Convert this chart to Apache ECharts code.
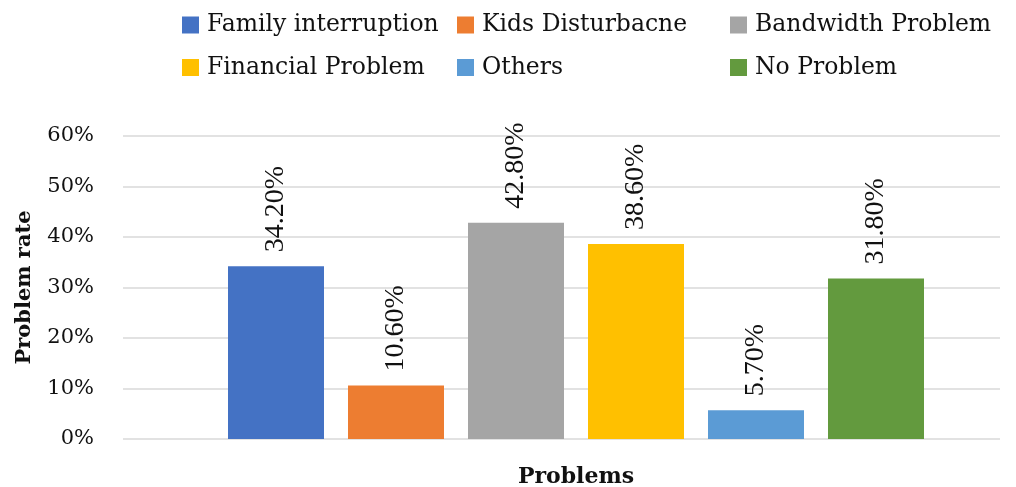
<!DOCTYPE html>
<html>
<head>
<meta charset="utf-8">
<title>Problems</title>
<script src="https://cdn.jsdelivr.net/npm/echarts@6/dist/echarts.min.js"></script>
<style>
  html, body { margin: 0; padding: 0; background: #ffffff; }
  #chart { width: 1016px; height: 487px; }
</style>
</head>
<body>
<div id="chart"></div>
<script>
// Problem names, one bar each
const problems = ['Family interruption', 'Kids Disturbacne', 'Bandwidth Problem',
                  'Financial Problem', 'Others', 'No Problem'];
// Share of respondents reporting each problem (%)
const rates = [34.2, 10.6, 42.8, 38.6, 5.7, 31.8];
const colors = ['#4472C4', '#ED7D31', '#A5A5A5', '#FFC000', '#5B9BD5', '#639A3E'];
// Y axis ticks (%)
const yMin = 0, yMax = 60, yStep = 10;
// Legend columns (two entries stacked in each)
const legendColumns = [
  ['Family interruption', 'Financial Problem'],
  ['Kids Disturbacne', 'Others'],
  ['Bandwidth Problem', 'No Problem']
];
const legendLefts = [182, 457, 730];

const axisFont = 'DejaVu Serif';
const labelFont = 'Liberation Serif';

const chart = echarts.init(document.getElementById('chart'), null, { renderer: 'canvas' });

const series = problems.map((name, i) => ({
  name: name,
  type: 'bar',
  xAxisIndex: 1,
  yAxisIndex: 1,
  barWidth: 96,
  barGap: '25%',
  itemStyle: { color: colors[i] },
  label: {
    show: true,
    position: 'top',
    rotate: 90,
    align: 'left',
    verticalAlign: 'middle',
    distance: 14,
    fontFamily: labelFont,
    fontSize: 28,
    color: '#111',
    formatter: p => p.value.toFixed(2) + '%'
  },
  data: [rates[i]]
}));

const legends = legendColumns.map((names, c) => ({
  orient: 'vertical',
  left: legendLefts[c],
  top: 12,
  itemWidth: 17,
  itemHeight: 17,
  itemGap: 16.5,
  icon: 'rect',
  padding: 0,
  data: names,
  textStyle: {
    fontFamily: axisFont,
    fontSize: 23.5,
    lineHeight: 26,
    color: '#111',
    padding: [0, 0, 0, 3]
  }
}));

chart.setOption({
  backgroundColor: '#ffffff',
  animation: false,
  color: colors,
  legend: legends,
  grid: [
    { left: 123, right: 16, top: 136, bottom: 48, outerBoundsMode: 'none', containLabel: false },
    { left: 152, right: 16, top: 136, bottom: 48, outerBoundsMode: 'none', containLabel: false }
  ],
  xAxis: [
    { gridIndex: 0, type: 'category', data: [''], show: false },
    {
      gridIndex: 1,
      type: 'category',
      data: [''],
      axisLine: { show: false },
      axisTick: { show: false },
      axisLabel: { show: false },
      name: 'Problems',
      nameLocation: 'middle',
      nameGap: 27,
      nameTextStyle: { fontFamily: axisFont, fontSize: 22, fontWeight: 'bold', color: '#111' }
    }
  ],
  yAxis: [
    {
      gridIndex: 0,
      type: 'value',
      min: yMin,
      max: yMax,
      interval: yStep,
      axisLine: { show: false },
      axisTick: { show: false },
      splitLine: { lineStyle: { color: '#d9d9d9', width: 1.5 } },
      axisLabel: {
        formatter: '{value}%',
        margin: 29,
        fontFamily: axisFont,
        fontSize: 21,
        color: '#111'
      },
      name: 'Problem rate',
      nameLocation: 'middle',
      nameRotate: 90,
      nameGap: 88,
      nameTextStyle: { fontFamily: axisFont, fontSize: 21, fontWeight: 'bold', color: '#111' }
    },
    {
      gridIndex: 1,
      type: 'value',
      min: yMin,
      max: yMax,
      interval: yStep,
      show: false,
      splitLine: { show: false }
    }
  ],
  series: series
});
</script>
</body>
</html>
